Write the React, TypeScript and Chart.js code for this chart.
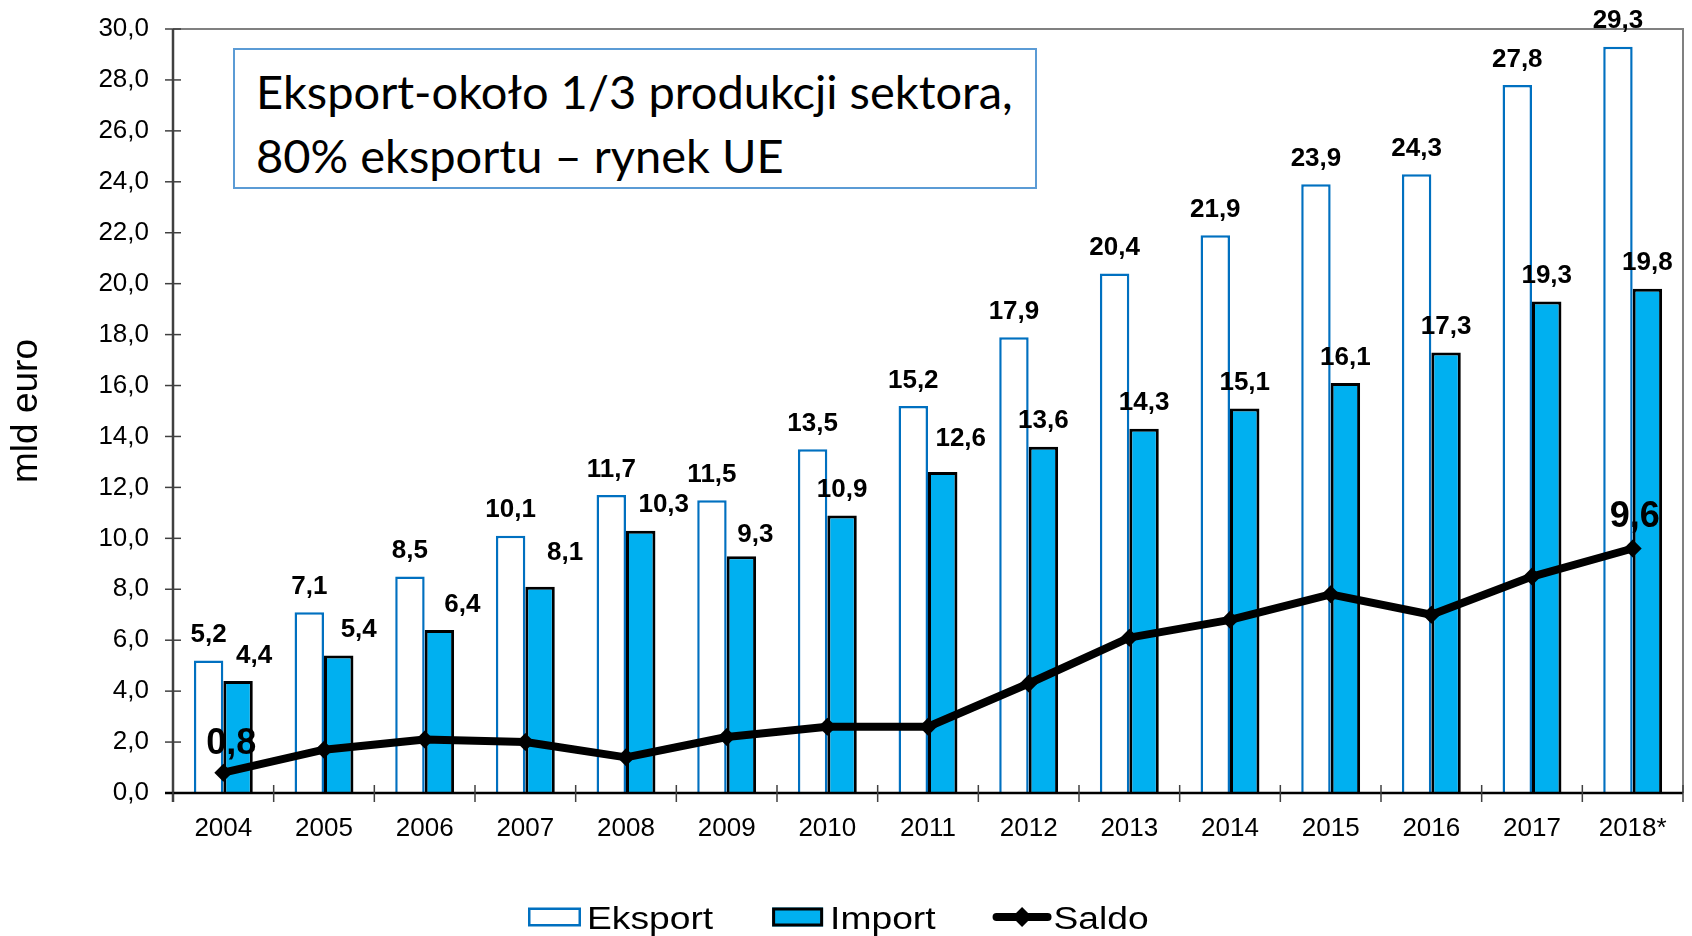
import React, { useEffect, useRef } from "react";
import { Chart, registerables } from "chart.js";

Chart.register(...registerables);

// ---------- data ----------
const years = ["2004", "2005", "2006", "2007", "2008", "2009", "2010", "2011", "2012", "2013", "2014", "2015", "2016", "2017", "2018*"];
const eksport = [5.2, 7.1, 8.5, 10.1, 11.7, 11.5, 13.5, 15.2, 17.9, 20.4, 21.9, 23.9, 24.3, 27.8, 29.3];
const importVals = [4.4, 5.4, 6.4, 8.1, 10.3, 9.3, 10.9, 12.6, 13.6, 14.3, 15.1, 16.1, 17.3, 19.3, 19.8];
const saldo = [0.8, 1.7, 2.1, 2.0, 1.4, 2.2, 2.6, 2.6, 4.3, 6.1, 6.8, 7.8, 7.0, 8.5, 9.6];
const seriesNames = ["Eksport", "Import", "Saldo"];
const yTitle = "mld euro";
const yMin = 0;
const yMax = 30;
const yStep = 2;
const boxLines = ["Eksport-około 1/3 produkcji sektora,", "80% eksportu – rynek UE"];

// ---------- styles ----------
const FONT = '"Liberation Sans", Arial, Helvetica, sans-serif';
const EKSPORT_BORDER = "#0070C0";
const IMPORT_FILL = "#00B0F0";
const importLabelDx = [16, 20, 23, 25, 23, 14, 0, 18, 0, 0, 0, 0, 0, 0, 0];
const importLabelDy = [0, 0, 0, 8, 0, -4, 0, 8, 0, 0, 0, 0, 0, 0, 0];

const fmt = (v: number) => v.toFixed(1).replace(".", ",");

const decorPlugin = {
  id: "decor",
  afterDatasetsDraw(chart: any) {
    const ctx = chart.ctx as CanvasRenderingContext2D;
    const { left, right, top, bottom } = chart.chartArea;
    const xs = chart.scales.x;
    const ys = chart.scales.y;
    ctx.save();
    // frame top/right
    ctx.strokeStyle = "#808080";
    ctx.lineWidth = 2;
    ctx.beginPath();
    ctx.moveTo(left, top);
    ctx.lineTo(right, top);
    ctx.lineTo(right, bottom);
    ctx.stroke();
    // left axis
    ctx.strokeStyle = "#404040";
    ctx.lineWidth = 2.5;
    ctx.beginPath();
    ctx.moveTo(left, top);
    ctx.lineTo(left, bottom + 9);
    ctx.stroke();
    ctx.lineWidth = 1.5;
    ys.ticks.forEach((t: any) => {
      const py = ys.getPixelForValue(t.value);
      ctx.beginPath();
      ctx.moveTo(left - 8, py);
      ctx.lineTo(left + 8, py);
      ctx.stroke();
    });
    // bottom axis
    ctx.strokeStyle = "#000";
    ctx.lineWidth = 2.5;
    ctx.beginPath();
    ctx.moveTo(left - 8, bottom);
    ctx.lineTo(right, bottom);
    ctx.stroke();
    const n = years.length;
    const cw = xs.getPixelForValue(1) - xs.getPixelForValue(0);
    ctx.strokeStyle = "#404040";
    ctx.lineWidth = 1.5;
    for (let i = 0; i <= n; i++) {
      const px = xs.getPixelForValue(0) - cw / 2 + i * cw;
      ctx.beginPath();
      ctx.moveTo(px, bottom - 8);
      ctx.lineTo(px, bottom + 9);
      ctx.stroke();
    }

    // data labels
    const m0 = chart.getDatasetMeta(0);
    const m1 = chart.getDatasetMeta(1);
    const m2 = chart.getDatasetMeta(2);
    ctx.fillStyle = "#000";
    ctx.textAlign = "center";
    ctx.textBaseline = "middle";
    ctx.font = `bold 26px ${FONT}`;
    m0.data.forEach((el: any, i: number) => {
      ctx.fillText(fmt(eksport[i]), el.x, el.y - 25.5);
    });
    m1.data.forEach((el: any, i: number) => {
      ctx.fillText(fmt(importVals[i]), el.x + importLabelDx[i], el.y - 25.5 - importLabelDy[i]);
    });
    ctx.font = `bold 36px ${FONT}`;
    const first = m2.data[0];
    ctx.fillText(fmt(saldo[0]), first.x + 8, first.y - 29);
    const last = m2.data[n - 1];
    ctx.fillText(fmt(saldo[n - 1]), last.x + 2, last.y - 31);
    ctx.restore();
  },
  afterDraw(chart: any) {
    // legend
    const ctx = chart.ctx as CanvasRenderingContext2D;
    ctx.save();
    const cy = 917;
    const base = 929;
    const sx = 1.2;
    ctx.font = `31px ${FONT}`;
    ctx.fillStyle = "#000";
    ctx.textAlign = "left";
    ctx.textBaseline = "alphabetic";
    let cx = 528;
    const drawText = (t: string, x: number) => {
      ctx.save();
      ctx.translate(x, base);
      ctx.scale(sx, 1);
      ctx.fillStyle = "#000";
      ctx.fillText(t, 0, 0);
      ctx.restore();
      return ctx.measureText(t).width * sx;
    };
    // Eksport
    ctx.fillStyle = "#fff";
    ctx.fillRect(cx, cy - 9.5, 53, 19);
    ctx.strokeStyle = EKSPORT_BORDER;
    ctx.lineWidth = 2.5;
    ctx.strokeRect(cx + 1.25, cy - 9.5 + 1.25, 50.5, 16.5);
    cx += 59;
    cx += drawText(seriesNames[0], cx) + 59;
    // Import
    ctx.fillStyle = IMPORT_FILL;
    ctx.fillRect(cx, cy - 9.5, 51, 19);
    ctx.strokeStyle = "#000";
    ctx.lineWidth = 3;
    ctx.strokeRect(cx + 1.5, cy - 9.5 + 1.5, 48, 16);
    cx += 58;
    cx += drawText(seriesNames[1], cx) + 57;
    // Saldo
    ctx.strokeStyle = "#000";
    ctx.lineWidth = 8;
    ctx.lineCap = "round";
    ctx.beginPath();
    ctx.moveTo(cx + 4, cy);
    ctx.lineTo(cx + 55, cy);
    ctx.stroke();
    ctx.fillStyle = "#000";
    ctx.beginPath();
    ctx.moveTo(cx + 29.5, cy - 10);
    ctx.lineTo(cx + 39.5, cy);
    ctx.lineTo(cx + 29.5, cy + 10);
    ctx.lineTo(cx + 19.5, cy);
    ctx.closePath();
    ctx.fill();
    cx += 61;
    drawText(seriesNames[2], cx);
    ctx.restore();
  },
};

export default function App() {
  const ref = useRef<HTMLCanvasElement | null>(null);

  useEffect(() => {
    const canvas = ref.current;
    if (!canvas) return;
    const chart = new Chart(canvas, {
      type: "bar",
      data: {
        labels: years,
        datasets: [
          {
            type: "bar",
            label: seriesNames[0],
            data: eksport,
            backgroundColor: "#ffffff",
            borderColor: EKSPORT_BORDER,
            borderWidth: 2.5,
            categoryPercentage: 0.585,
            barPercentage: 1,
            order: 1,
          },
          {
            type: "bar",
            label: seriesNames[1],
            data: importVals,
            backgroundColor: IMPORT_FILL,
            borderColor: "#000000",
            borderWidth: 3,
            categoryPercentage: 0.585,
            barPercentage: 1,
            order: 1,
          },
          {
            type: "line",
            label: seriesNames[2],
            data: saldo,
            borderColor: "#000000",
            backgroundColor: "#000000",
            borderWidth: 8,
            borderJoinStyle: "round",
            borderCapStyle: "round",
            tension: 0,
            pointStyle: "rectRot",
            pointRadius: 9,
            pointBackgroundColor: "#000000",
            pointBorderColor: "#000000",
            pointBorderWidth: 0,
            order: 0,
          } as any,
        ],
      },
      options: {
        responsive: false,
        animation: false,
        events: [],
        layout: { padding: { left: 0, right: 7, top: 29, bottom: 0 } },
        plugins: {
          legend: { display: false },
          tooltip: { enabled: false },
          title: { display: false },
        },
        scales: {
          x: {
            type: "category",
            offset: true,
            grid: { display: false, drawTicks: false },
            border: { display: false },
            ticks: {
              color: "#000",
              font: { family: FONT, size: 26 },
              padding: 20,
              maxRotation: 0,
              autoSkip: false,
            },
            afterFit: (s: any) => {
              s.height = 143;
            },
          },
          y: {
            min: yMin,
            max: yMax,
            grid: { display: false, drawTicks: false },
            border: { display: false },
            ticks: {
              stepSize: yStep,
              color: "#000",
              font: { family: FONT, size: 26 },
              padding: 24,
              callback: (v: any) => fmt(Number(v)),
            },
            title: {
              display: true,
              text: yTitle,
              color: "#000",
              font: { family: FONT, size: 37 },
              padding: { top: 5, bottom: 0 },
            },
            afterFit: (s: any) => {
              s.width = 173;
              s.paddingTop = 10;
              s.paddingBottom = 10;
            },
          },
        },
      },
      plugins: [decorPlugin],
    });
    return () => chart.destroy();
  }, []);

  return (
    <div style={{ position: "fixed", left: 0, top: 0, width: 1692, height: 936, background: "#fff", overflow: "hidden" }}>
      <canvas ref={ref} width={1692} height={936} style={{ position: "absolute", left: 0, top: 0, width: 1692, height: 936 }} />
      <div
        style={{
          position: "absolute",
          left: 233,
          top: 48,
          width: 804,
          height: 141,
          border: "2.5px solid #5B9BD5",
          boxSizing: "border-box",
          background: "#fff",
        }}
      />
      {boxLines.map((t, i) => (
        <div
          key={i}
          style={{
            position: "absolute",
            left: 256,
            top: 68 + i * 64,
            fontFamily: "Lato, 'Open Sans', sans-serif",
            fontSize: 47,
            lineHeight: "46px",
            color: "#000",
            whiteSpace: "nowrap",
          }}
        >
          {t}
        </div>
      ))}
    </div>
  );
}
